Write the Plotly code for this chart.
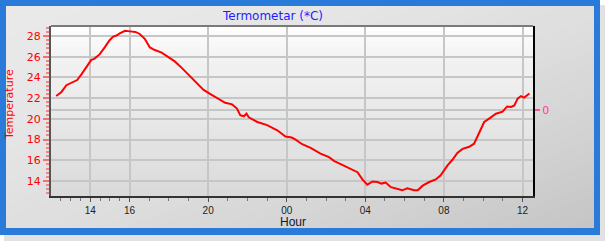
import plotly.graph_objects as go

# ---------------- data ----------------
times = [
    "2013-05-20 12:16", "2013-05-20 12:32", "2013-05-20 12:47", "2013-05-20 13:02", "2013-05-20 13:20",
    "2013-05-20 13:33", "2013-05-20 13:48", "2013-05-20 14:03", "2013-05-20 14:12", "2013-05-20 14:29",
    "2013-05-20 14:44", "2013-05-20 14:59", "2013-05-20 15:10", "2013-05-20 15:20", "2013-05-20 15:30",
    "2013-05-20 15:46", "2013-05-20 16:01", "2013-05-20 16:18", "2013-05-20 16:31", "2013-05-20 16:47",
    "2013-05-20 17:02", "2013-05-20 17:17", "2013-05-20 17:38", "2013-05-20 17:53", "2013-05-20 18:06",
    "2013-05-20 18:18", "2013-05-20 18:40", "2013-05-20 19:11", "2013-05-20 19:46", "2013-05-20 20:07",
    "2013-05-20 20:27", "2013-05-20 20:52", "2013-05-20 21:13", "2013-05-20 21:28", "2013-05-20 21:38",
    "2013-05-20 21:49", "2013-05-20 21:57", "2013-05-20 22:04", "2013-05-20 22:30", "2013-05-20 23:00",
    "2013-05-20 23:31", "2013-05-20 23:56", "2013-05-21 00:15", "2013-05-21 00:27", "2013-05-21 00:47",
    "2013-05-21 01:13", "2013-05-21 01:43", "2013-05-21 02:09", "2013-05-21 02:24", "2013-05-21 02:44",
    "2013-05-21 03:10", "2013-05-21 03:36", "2013-05-21 03:51", "2013-05-21 04:06", "2013-05-21 04:22",
    "2013-05-21 04:37", "2013-05-21 04:49", "2013-05-21 05:02", "2013-05-21 05:18", "2013-05-21 05:43",
    "2013-05-21 05:53", "2013-05-21 06:08", "2013-05-21 06:29", "2013-05-21 06:40", "2013-05-21 06:55",
    "2013-05-21 07:15", "2013-05-21 07:35", "2013-05-21 07:50", "2013-05-21 08:11", "2013-05-21 08:26",
    "2013-05-21 08:41", "2013-05-21 08:57", "2013-05-21 09:17", "2013-05-21 09:32", "2013-05-21 09:48",
    "2013-05-21 10:03", "2013-05-21 10:19", "2013-05-21 10:39", "2013-05-21 10:59", "2013-05-21 11:13",
    "2013-05-21 11:25", "2013-05-21 11:35", "2013-05-21 11:45", "2013-05-21 11:55", "2013-05-21 12:05",
    "2013-05-21 12:21",
]
temps = [
    22.2, 22.6, 23.25, 23.5, 23.75,
    24.3, 25.0, 25.7, 25.8, 26.25,
    26.9, 27.6, 27.95, 28.05, 28.25,
    28.5, 28.45, 28.4, 28.2, 27.7,
    26.9, 26.65, 26.4, 26.1, 25.8,
    25.55, 24.9, 23.9, 22.8, 22.4,
    22.05, 21.55, 21.4, 21.0, 20.35,
    20.25, 20.5, 20.15, 19.7, 19.4,
    18.9, 18.3, 18.2, 18.0, 17.55,
    17.2, 16.65, 16.3, 15.95, 15.65,
    15.2, 14.85, 14.15, 13.65, 13.95,
    13.9, 13.75, 13.85, 13.4, 13.15,
    13.1, 13.3, 13.1, 13.1, 13.55,
    13.9, 14.15, 14.55, 15.5, 16.05,
    16.7, 17.1, 17.3, 17.6, 18.65,
    19.7, 20.05, 20.5, 20.7, 21.2,
    21.15, 21.3, 21.95, 22.2, 22.05,
    22.45,
]

x_tick_vals = ["2013-05-20 14:00", "2013-05-20 16:00", "2013-05-20 20:00", "2013-05-21 00:00",
               "2013-05-21 04:00", "2013-05-21 08:00", "2013-05-21 12:00"]
x_tick_text = ["14", "16", "20", "00", "04", "08", "12"]
x_minor_vals = ["2013-05-20 12:30", "2013-05-20 13:00", "2013-05-20 13:30", "2013-05-20 14:30",
                "2013-05-20 15:00", "2013-05-20 15:30", "2013-05-20 17:00", "2013-05-20 18:00",
                "2013-05-20 19:00", "2013-05-20 21:00", "2013-05-20 22:00", "2013-05-20 23:00",
                "2013-05-21 01:00", "2013-05-21 02:00", "2013-05-21 03:00", "2013-05-21 05:00",
                "2013-05-21 06:00", "2013-05-21 07:00", "2013-05-21 09:00", "2013-05-21 10:00",
                "2013-05-21 11:00"]
y_tick_vals = [14, 16, 18, 20, 22, 24, 26, 28]
y2_tick_vals = [0]
y2_tick_text = ["0"]

title_text = "Termometar (*C)"
y_title = "Temperature"
x_title = "Hour"

# ---------------- geometry helpers ----------------
W, H = 611, 246
L, R, T, B = 51, 533, 26, 196


def px(x):
    return (x - L) / (R - L)


def py(y):
    return (B - y) / (B - T)


def gray(v):
    v = max(0, min(255, int(round(v))))
    return "rgb(%d,%d,%d)" % (v, v, v)


def clip(poly, f, keep_ge, c):
    out = []
    n = len(poly)
    for i in range(n):
        a = poly[i]
        b = poly[(i + 1) % n]
        fa, fb = f(a) - c, f(b) - c
        ina = fa >= 0 if keep_ge else fa <= 0
        inb = fb >= 0 if keep_ge else fb <= 0
        if ina:
            out.append(a)
        if ina != inb:
            t = fa / (fa - fb)
            out.append((a[0] + t * (b[0] - a[0]), a[1] + t * (b[1] - a[1])))
    return out


shapes = []
# drop shadow
shapes.append(dict(type="rect", xref="paper", yref="paper", layer="below",
                   x0=px(4), x1=px(605), y0=py(241), y1=py(5),
                   fillcolor="#e2e2e2", line=dict(width=0)))
# blue frame
shapes.append(dict(type="rect", xref="paper", yref="paper", layer="below",
                   x0=px(0), x1=px(600), y0=py(235), y1=py(0),
                   fillcolor="#2a7bd9", line=dict(width=0)))
# inner panel with diagonal gradient (each band extends to the end so no seams)
ix0, ix1, iy0, iy1 = 6, 594, 6, 228
rect = [(ix0, iy0), (ix1, iy0), (ix1, iy1), (ix0, iy1)]
sf = lambda p: (p[0] - ix0) / (ix1 - ix0) + (p[1] - iy0) / (iy1 - iy0)
NB = 40
for k in range(NB):
    s0 = 2.0 * k / NB
    poly = rect if k == 0 else clip(rect, sf, True, s0)
    if len(poly) < 3:
        continue
    sm = s0 + 1.0 / NB
    col = 233 - 1.5 * sm - 8.5 * sm * sm
    path = "M " + " L ".join("%.5f,%.5f" % (px(x), py(y)) for x, y in poly) + " Z"
    shapes.append(dict(type="path", xref="paper", yref="paper", layer="below",
                       path=path, fillcolor=gray(col), line=dict(width=0)))

# plot-area vertical gradient
stops = [(0.0, 255), (0.06, 250), (0.2, 242), (0.5, 233), (1.0, 218)]


def grad(t):
    for (t0, c0), (t1, c1) in zip(stops[:-1], stops[1:]):
        if t <= t1:
            return c0 + (c1 - c0) * (t - t0) / (t1 - t0)
    return stops[-1][1]


NP = 34
for k in range(NP):
    y0 = T + (B - T) * k / NP
    shapes.append(dict(type="rect", xref="paper", yref="paper", layer="below",
                       x0=0, x1=1, y0=0, y1=py(y0),
                       fillcolor=gray(grad((k + 0.5) / NP)), line=dict(width=0)))

# top border of plot
shapes.append(dict(type="line", xref="paper", yref="paper", layer="above",
                   x0=0, x1=1, y0=1, y1=1, line=dict(color="#7a7a7a", width=2)))

annotations = [
    dict(text=title_text, xref="paper", yref="paper", x=px(272), y=py(16),
         xanchor="center", yanchor="middle", showarrow=False,
         font=dict(family="DejaVu Sans", size=12, color="#1e1eff")),
    dict(text=y_title, xref="paper", yref="paper", x=px(9), y=py(105),
         xanchor="center", yanchor="middle", showarrow=False, textangle=-90,
         font=dict(family="DejaVu Sans", size=11, color="#ff0000")),
    dict(text=x_title, xref="paper", yref="paper", x=px(293), y=py(222),
         xanchor="center", yanchor="middle", showarrow=False,
         font=dict(family="Liberation Sans", size=12, color="#141430")),
]

fig = go.Figure()
fig.add_trace(go.Scatter(x=times, y=temps, mode="lines",
                         line=dict(color="#ff0000", width=2), showlegend=False,
                         hoverinfo="skip"))
fig.add_trace(go.Scatter(x=[times[0]], y=[None], yaxis="y2", mode="lines",
                         showlegend=False, hoverinfo="skip"))

fig.update_layout(
    width=W, height=H,
    margin=dict(l=L, r=W - R, t=T, b=H - B, pad=0),
    paper_bgcolor="white",
    plot_bgcolor="rgba(0,0,0,0)",
    showlegend=False,
    shapes=shapes,
    annotations=annotations,
    xaxis=dict(
        type="date",
        range=["2013-05-20 12:00", "2013-05-21 12:32"],
        tickmode="array", tickvals=x_tick_vals, ticktext=x_tick_text,
        ticks="outside", ticklen=4, tickwidth=1, tickcolor="#555555",
        tickfont=dict(family="Liberation Sans", size=10, color="#222222"),
        showgrid=True, gridcolor="#c6c6c6", gridwidth=2,
        showline=True, linecolor="#333333", linewidth=2,
        zeroline=False,
        minor=dict(tickmode="array", tickvals=x_minor_vals, ticks="outside",
                   ticklen=3, tickcolor="#777777", showgrid=False),
    ),
    yaxis=dict(
        range=[12.55, 28.97],
        tickmode="array", tickvals=y_tick_vals,
        ticks="outside", ticklen=6, tickwidth=2, tickcolor="#ee7474",
        tickfont=dict(family="DejaVu Sans", size=11, color="#ff0000"),
        showgrid=True, gridcolor="#c6c6c6", gridwidth=2,
        showline=True, linecolor="#555555", linewidth=2,
        zeroline=False,
        minor=dict(dtick=0.4, tick0=0, ticks="outside", ticklen=3,
                   tickwidth=2, tickcolor="#ee8888", showgrid=False),
    ),
    yaxis2=dict(
        overlaying="y", side="right", anchor="x",
        range=[-1.012, 0.988],
        tickmode="array", tickvals=y2_tick_vals, ticktext=y2_tick_text,
        ticks="outside", ticklen=5, tickwidth=2, tickcolor="#ff4da0",
        tickfont=dict(family="DejaVu Sans", size=11, color="#ff3d8f"),
        showgrid=True, gridcolor="#c6c6c6", gridwidth=2,
        showline=True, linecolor="#000000", linewidth=2,
        zeroline=False,
    ),
)

fig.write_html("out.html", config=dict(displayModeBar=False))
